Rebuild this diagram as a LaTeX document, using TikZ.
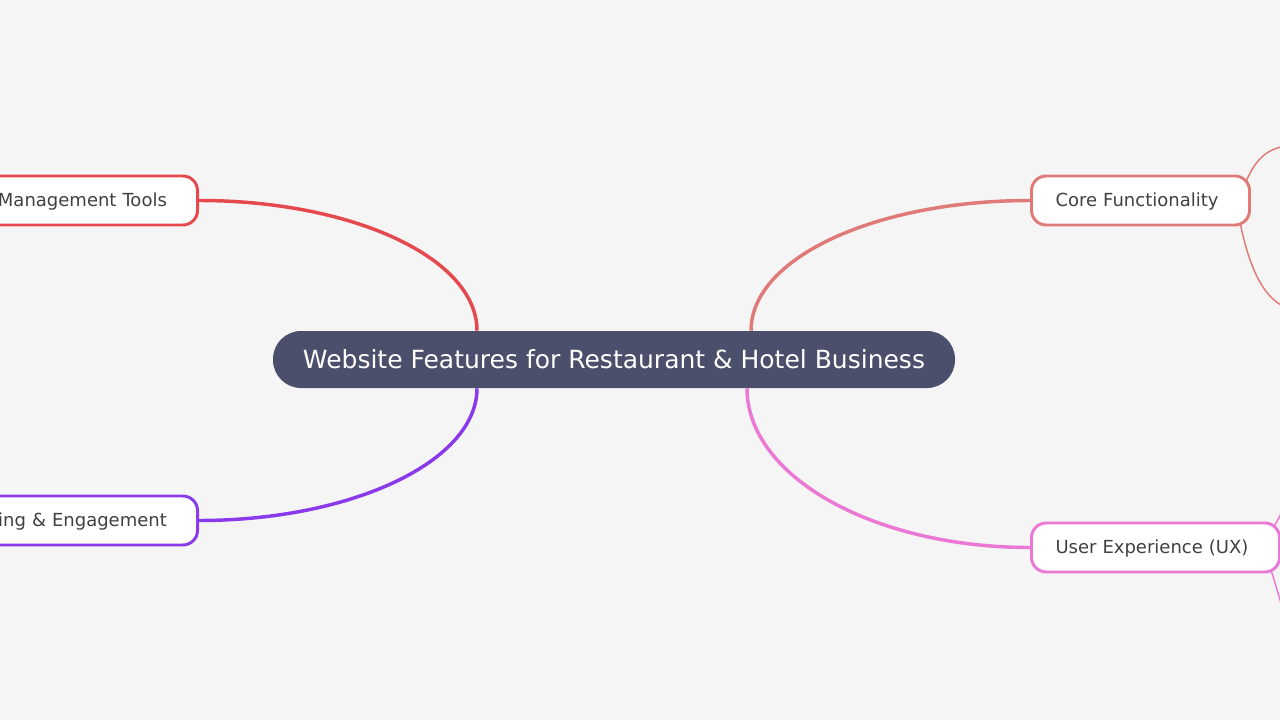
\documentclass[tikz,border=0pt]{standalone}
\usepackage{fontspec}
\setmainfont{DejaVu Sans}
\usetikzlibrary{backgrounds}
\definecolor{bg}{HTML}{F5F5F5}
\definecolor{rootfill}{HTML}{4B4F6B}
\definecolor{cred}{HTML}{E5484D}
\definecolor{csalmon}{HTML}{E07A78}
\definecolor{cpink}{HTML}{EA78D4}
\definecolor{cpurple}{HTML}{8A3AEA}
\definecolor{txt}{HTML}{404040}
\begin{document}
\begin{tikzpicture}[x=0.75pt,y=-0.75pt,
  rootbox/.style={fill=rootfill, text=white, rounded corners=21pt, minimum width=511.5pt, minimum height=42.75pt, inner sep=0pt, font=\fontsize{18.75}{22}\selectfont},
  branchbox/.style={draw=#1, fill=white, line width=2.2pt, rounded corners=11pt, minimum height=36.75pt, inner ysep=0pt, inner xsep=18pt, text=txt, text height=11.6pt, text depth=2.4pt, font=\fontsize{13.5}{16}\selectfont},
  rightbox/.style={branchbox=#1, align=left},
  leftbox/.style={branchbox=#1, text width=150pt, align=right, inner xsep=23pt},
  mainline/.style={draw=#1, line width=2.6pt},
  subline/.style={draw=#1, line width=1.1pt}]
\useasboundingbox (0,0) rectangle (1280,720);
\clip (0,0) rectangle (1280,720);

\node[rootbox] (root) at (614,359.5) {Website Features for Restaurant \& Hotel Business};

\node[rightbox=csalmon, text width=163.5pt-36pt] (core) at (1140.5,200.5) {Core Functionality};
\node[rightbox=cpink, text width=186pt-36pt] (ux) at (1155.5,547.5) {User Experience (UX)};
\node[leftbox=cred, anchor=east] (mt) at (199,200.5) {Management Tools};
\node[leftbox=cpurple, anchor=east] (eng) at (199,520.5) {ing \& Engagement};

\coordinate (rTL) at ([xshift=-137*0.75pt]root.north);
\coordinate (rTR) at ([xshift=137*0.75pt]root.north);
\coordinate (rBL) at ([xshift=-137*0.75pt]root.south);
\coordinate (rBR) at ([xshift=133*0.75pt]root.south);
\coordinate (k1) at (1300,145);
\coordinate (k2) at (1300,310);
\coordinate (k3) at (1300,480);
\coordinate (k4) at (1292,640);

\begin{pgfonlayer}{background}
\fill[bg] (0,0) rectangle (1280,720);
\draw[mainline=cred] (rTL) .. controls +(0,-73) and +(153,0) .. (mt.east);
\draw[mainline=cpurple] (rBL) .. controls +(0,73) and +(153,0) .. (eng.east);
\draw[mainline=csalmon] (rTR) .. controls +(0,-73) and +(-154,0) .. (core.west);
\draw[mainline=cpink] (rBR) .. controls +(0,88) and +(-157,0) .. (ux.west);
\draw[subline=csalmon] ([xshift=-5*0.75pt,yshift=18.5*0.75pt]core.east) .. controls +(12,-30) and +(-25,0) .. (k1);
\draw[subline=csalmon] ([xshift=-11*0.75pt,yshift=-21.5*0.75pt]core.east) .. controls +(12,60) and +(-28,0) .. (k2);
\draw[subline=cpink] ([xshift=-7*0.75pt,yshift=20.5*0.75pt]ux.east) .. controls +(8,-15) and +(-10,15) .. (k3);
\draw[subline=cpink] ([xshift=-10*0.75pt,yshift=-22.5*0.75pt]ux.east) .. controls +(5,15) and +(-5,-15) .. (k4);
\end{pgfonlayer}
\end{tikzpicture}
\end{document}
